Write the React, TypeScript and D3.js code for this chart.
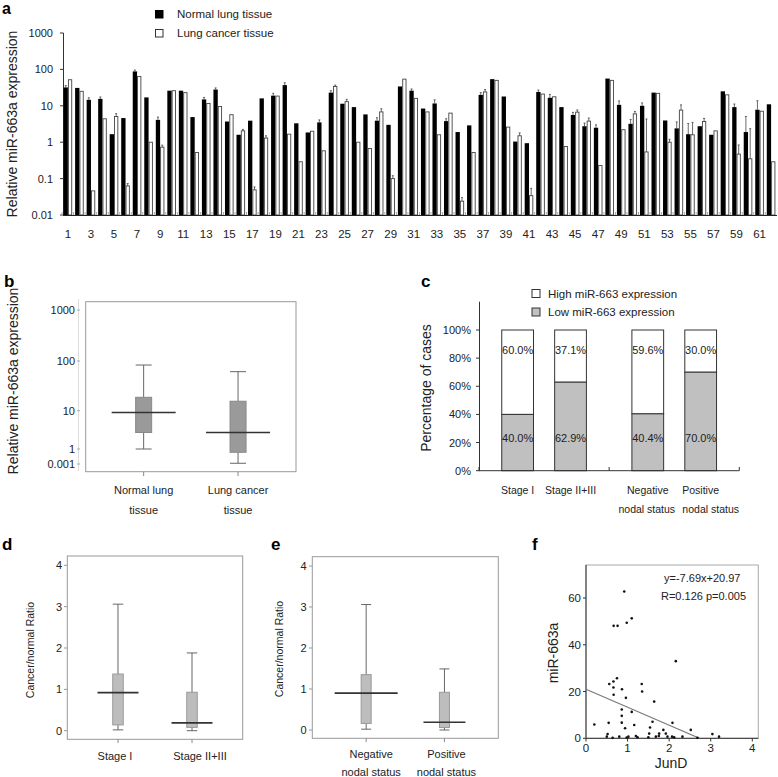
import React from "react";
import * as d3 from "d3";

// ---------- Panel a data ----------
const samples = d3.range(1, 63);
const normalA = [32,31,14.6,15.5,1.66,4.6,88,17,4.1,26,26,4.9,15,28,3.7,1.6,3.9,16,19,37,3.3,1.85,3.5,23,11.4,9.2,5.8,3.9,3.0,34,26,8.4,11.6,3.8,1.9,2.9,20,54,18,1.04,0.94,24,16.6,9.2,5.6,2.75,2.5,56,10.6,3.2,10,23,3.95,2.4,1.66,2.75,1.6,25,9.2,1.9,7.8,11];
const cancerA = [52,25,0.046,4.4,5.1,0.063,64,1.0,0.73,26,23,0.52,11.6,9.6,5.7,2.05,0.049,1.3,18.5,1.66,0.29,2.0,0.58,34,13,1.0,0.67,6.8,0.1,54,16,6.8,1.6,6.3,0.024,0.52,24,50,2.6,1.5,0.034,21,17.7,0.76,6.7,3.8,0.23,50,2.2,6.0,0.54,22,1.0,7.6,1.6,3.7,2.05,20,0.47,0.35,7.1,0.29];
// [sample, error] pairs
const errNormalA: [number, number][] = [[1,4],[3,2],[4,2],[7,8],[9,0.8],[13,2],[14,3],[19,3],[20,6],[23,0.6],[24,3],[28,0.8],[31,3],[33,3],[34,0.6],[37,3],[42,3],[43,4],[45,1],[46,0.6],[47,0.5],[49,3],[50,1],[51,2],[54,1.2],[55,1.6],[59,2],[60,3.2],[61,6]];
const errCancerA: [number, number][] = [[5,1],[6,0.01],[9,0.1],[16,0.2],[17,0.01],[18,0.2],[24,3],[25,2],[28,1.5],[29,0.02],[35,0.006],[37,4],[40,0.3],[41,0.02],[45,1],[46,0.8],[50,1],[51,3.8],[53,0.2],[54,3],[55,1.9],[56,0.8],[59,0.37],[60,2.0]];
const ticksA = [1000, 100, 10, 1, 0.1, 0.01];
const legendA = ["Normal lung tissue", "Lung cancer tissue"];

// ---------- Panel b data ----------
const groupsB = [["Normal lung", "tissue"], ["Lung cancer", "tissue"]];
const boxesB = [
  { min: 1.0, q1: 2.7, med: 9, q3: 18.6, max: 83 },
  { min: 0.0014, q1: 0.22, med: 2.7, q3: 15.5, max: 61 },
];
const ticksB = [1000, 100, 10, 1, 0.001];
const ticksBLabel = ["1000", "100", "10", "1", "0.001"];

// ---------- Panel c data ----------
const groupsC = [
  [["Stage I"], ["Stage II+III"]],
  [["Negative", "nodal status"], ["Positive", "nodal status"]],
];
const labelShiftC = [[[0], [0]], [[0, -1], [0, 10]]];
const lowC = [40.0, 62.9, 40.4, 70.0];
const highC = [60.0, 37.1, 59.6, 30.0];
const ticksC = [0, 20, 40, 60, 80, 100];
const legendC = ["High miR-663 expression", "Low miR-663 expression"];

// ---------- Panel d / e data ----------
const groupsD = [["Stage I"], ["Stage II+III"]];
const boxesD = [
  { min: 0.02, q1: 0.14, med: 0.92, q3: 1.37, max: 3.06 },
  { min: 0.0, q1: 0.08, med: 0.19, q3: 0.93, max: 1.88 },
];
const groupsE = [["Negative", "nodal status"], ["Positive", "nodal status"]];
const boxesE = [
  { min: 0.02, q1: 0.16, med: 0.9, q3: 1.35, max: 3.06 },
  { min: 0.0, q1: 0.06, med: 0.19, q3: 0.92, max: 1.49 },
];
const ticksDE = [0, 1, 2, 3, 4];

// ---------- Panel f data ----------
const junD = [0.92,0.665,0.76,0.98,1.10,2.16,0.745,0.56,0.66,0.66,0.865,0.665,0.96,1.34,1.35,1.64,0.86,1.10,0.86,0.86,0.2,0.545,1.6,2.08,1.16,0.94,1.54,1.86,2.52,0.52,1.52,1.76,1.92,3.04,0.8,0.5,0.98,1.02,1.2,1.24,1.5,1.68,1.75,1.96,2.07,2.12,2.32,2.68,3.2,0.64];
const mir = [62.8,48.1,48.1,49.4,51.3,33.0,25.7,23.2,24.3,21.7,21.0,18.6,17.3,23.2,20.0,15.7,12.3,11.3,9.6,6.7,5.9,6.6,7.1,6.6,5.7,4.3,4.6,3.6,3.6,1.8,2.0,2.0,2.0,1.8,0.7,0.7,0.3,0.7,1.0,0.4,0.4,0.7,1.0,0.7,0.7,0.4,0.7,0.2,0.7,0.2];
const slopeF = -7.69;
const interceptF = 20.97;
const ticksFx = [0, 1, 2, 3, 4];
const ticksFy = [0, 20, 40, 60];

const FONT = "'Liberation Sans', Arial, Helvetica, sans-serif";

type Box = { min: number; q1: number; med: number; q3: number; max: number };

function BoxPlot({ cx, y, b, boxW, medW, fill, stroke, medColor }: { cx: number; y: (v: number) => number; b: Box; boxW: number; medW: number; fill: string; stroke: string; medColor: string }) {
  return (
    <g>
      <line x1={cx} x2={cx} y1={y(b.max)} y2={y(b.q3)} stroke="#666" strokeWidth={1} />
      <line x1={cx} x2={cx} y1={y(b.q1)} y2={y(b.min)} stroke="#666" strokeWidth={1} />
      <line x1={cx - boxW / 2} x2={cx + boxW / 2} y1={y(b.max)} y2={y(b.max)} stroke="#666" strokeWidth={1} />
      <line x1={cx - boxW / 2} x2={cx + boxW / 2} y1={y(b.min)} y2={y(b.min)} stroke="#666" strokeWidth={1} />
      <rect x={cx - boxW / 2} y={y(b.q3)} width={boxW} height={y(b.q1) - y(b.q3)} fill={fill} stroke={stroke} strokeWidth={1} />
      <line x1={cx - medW / 2} x2={cx + medW / 2} y1={y(b.med)} y2={y(b.med)} stroke={medColor} strokeWidth={1.6} />
    </g>
  );
}

export default function App() {
  // ----- Panel a -----
  const xa0 = d3.scaleBand<number>().domain(samples).range([63, 776]).paddingInner(0.25).paddingOuter(0.05);
  const xa1 = d3.scaleBand<string>().domain(["n", "c"]).range([0, xa0.bandwidth()]);
  const ya = d3.scaleLog().domain([0.01, 1000]).range([215, 33]);
  const errN = new Map(errNormalA);
  const errC = new Map(errCancerA);

  // ----- Panel b -----
  const xb = d3.scalePoint<number>().domain([0, 1]).range([85.7, 296]).padding(0.614);
  const ybLin = d3.scaleLinear().domain([-3, 0, 1, 2, 3]).range([464, 449, 410.7, 361, 310]);
  const yb = (v: number) => ybLin(Math.log10(v));

  // ----- Panel c -----
  const xc0 = d3.scaleBand<number>().domain([0, 1]).range([479, 739.3]);
  const xc1 = d3.scaleBand<number>().domain([0, 1]).range([0, xc0.bandwidth()]).paddingInner(0.4).paddingOuter(0.43);
  const yc = d3.scaleLinear().domain([0, 100]).range([470.7, 330]);
  const barC = [0, 1, 2, 3].map((i) => ({ g: Math.floor(i / 2), k: i % 2, i }));

  // ----- Panel d / e -----
  const xd = d3.scalePoint<number>().domain([0, 1]).range([67.3, 242.7]).padding(0.685);
  const yd = d3.scaleLinear().domain([0, 4]).range([730.7, 565.3]);
  const xe = d3.scalePoint<number>().domain([0, 1]).range([312.3, 498.3]).padding(0.688);
  const ye = d3.scaleLinear().domain([0, 4]).range([730, 566]);

  // ----- Panel f -----
  const xf = d3.scaleLinear().domain([0, 4]).range([586, 752.3]);
  const yf = d3.scaleLinear().domain([0, 60]).range([738.3, 598]);
  const xZero = -interceptF / slopeF;

  const tickFont = 11;

  return (
    <svg width={778} height={777} style={{ position: "absolute", left: 0, top: 0, background: "#fff" }} fontFamily={FONT}>
      <rect x={0} y={0} width={778} height={777} fill="#fff" />
      {/* ================= Panel a ================= */}
      <text x={2} y={14} fontSize={16} fontWeight="bold">a</text>
      <text transform={`translate(17,124) rotate(-90)`} textAnchor="middle" fontSize={14} fill="#222">Relative miR-663a expression</text>
      {/* legend */}
      <rect x={155.5} y={10.5} width={7.5} height={7.5} fill="#000" stroke="#000" />
      <text x={177} y={18} fontSize={11.5} fill="#222">{legendA[0]}</text>
      <rect x={155.5} y={29.5} width={7.5} height={7.5} fill="#fff" stroke="#333" />
      <text x={177} y={37} fontSize={11.5} fill="#222">{legendA[1]}</text>
      {/* y axis */}
      <line x1={63.5} x2={63.5} y1={ya(1000)} y2={215} stroke="#333" />
      {ticksA.map((t) => (
        <g key={t}>
          <line x1={60} x2={63.5} y1={ya(t)} y2={ya(t)} stroke="#333" />
          <text x={53} y={ya(t) + 4} fontSize={tickFont} textAnchor="end" fill="#222">{t}</text>
        </g>
      ))}
      {/* bars */}
      {samples.map((s, i) => {
        const x0 = xa0(s)!;
        const bw = xa1.bandwidth();
        const xn = x0 + xa1("n")!;
        const xcn = x0 + xa1("c")!;
        const en = errN.get(s);
        const ec = errC.get(s);
        return (
          <g key={s}>
            <line x1={x0 - 1.5} x2={x0 - 1.5} y1={212} y2={215} stroke="#aaa" />
            <rect x={xn} y={ya(normalA[i])} width={bw} height={215 - ya(normalA[i])} fill="#000" />
            <rect x={xcn + 0.5} y={ya(cancerA[i])} width={bw - 1} height={215 - ya(cancerA[i])} fill="#fff" stroke="#444" strokeWidth={0.9} />
            {en !== undefined && (
              <g stroke="#444" strokeWidth={0.8}>
                <line x1={xn + bw / 2} x2={xn + bw / 2} y1={ya(normalA[i])} y2={ya(normalA[i] + en)} />
                <line x1={xn + bw / 2 - 1} x2={xn + bw / 2 + 1} y1={ya(normalA[i] + en)} y2={ya(normalA[i] + en)} />
              </g>
            )}
            {ec !== undefined && (
              <g stroke="#444" strokeWidth={0.8}>
                <line x1={xcn + bw / 2} x2={xcn + bw / 2} y1={ya(cancerA[i])} y2={ya(cancerA[i] + ec)} />
                <line x1={xcn + bw / 2 - 1} x2={xcn + bw / 2 + 1} y1={ya(cancerA[i] + ec)} y2={ya(cancerA[i] + ec)} />
              </g>
            )}
            {s % 2 === 1 && (
              <text x={x0 + xa0.bandwidth() / 2} y={238} fontSize={11.5} textAnchor="middle" fill="#222">{s}</text>
            )}
          </g>
        );
      })}
      <line x1={63} x2={777} y1={215.5} y2={215.5} stroke="#222" strokeWidth={1.2} />

      {/* ================= Panel b ================= */}
      <text x={4} y={287} fontSize={17} fontWeight="bold">b</text>
      <text transform={`translate(18,381) rotate(-90)`} textAnchor="middle" fontSize={14} fill="#222">Relative miR-663a expression</text>
      <line x1={78.5} x2={78.5} y1={299} y2={471} stroke="#ddd" />
      {ticksB.map((t, i) => (
        <g key={t}>
          <line x1={77} x2={80} y1={yb(t)} y2={yb(t)} stroke="#aaa" />
          <text x={75} y={yb(t) + 4} fontSize={tickFont} textAnchor="end" fill="#222">{ticksBLabel[i]}</text>
        </g>
      ))}
      <rect x={85.7} y={301.7} width={210.3} height={170} fill="none" stroke="#999" strokeWidth={1} />
      {boxesB.map((b, i) => (
        <g key={i}>
          <line x1={xb(i)!} x2={xb(i)!} y1={471.7} y2={476} stroke="#888" />
          <BoxPlot cx={xb(i)!} y={yb} b={b} boxW={16} medW={64} fill="#9a9a9a" stroke="#888" medColor="#333" />
          {groupsB[i].map((l, j) => (
            <text key={j} x={xb(i)!} y={494 + j * 20} fontSize={11} textAnchor="middle" fill="#222">{l}</text>
          ))}
        </g>
      ))}

      {/* ================= Panel c ================= */}
      <text x={421} y={287} fontSize={17} fontWeight="bold">c</text>
      <text transform={`translate(431,388) rotate(-90)`} textAnchor="middle" fontSize={14} fill="#222">Percentage of cases</text>
      <rect x={532} y={289.5} width={8} height={8} fill="#fff" stroke="#333" />
      <text x={548} y={297.5} fontSize={11.5} fill="#222">{legendC[0]}</text>
      <rect x={532} y={308} width={8} height={8} fill="#c0c0c0" stroke="#333" />
      <text x={548} y={316} fontSize={11.5} fill="#222">{legendC[1]}</text>
      <line x1={479.5} x2={479.5} y1={301.7} y2={470.7} stroke="#333" />
      {ticksC.map((t) => (
        <g key={t}>
          <line x1={476} x2={479.5} y1={yc(t)} y2={yc(t)} stroke="#333" />
          <text x={471} y={yc(t) + 4} fontSize={tickFont} textAnchor="end" fill="#222">{t}%</text>
        </g>
      ))}
      {barC.map(({ g, k, i }) => {
        const x = xc0(g)! + xc1(k)!;
        const w = xc1.bandwidth();
        const cx = x + w / 2;
        const labels = groupsC[g][k];
        return (
          <g key={i}>
            <rect x={x} y={yc(lowC[i] + highC[i])} width={w} height={yc(lowC[i]) - yc(lowC[i] + highC[i])} fill="#fff" stroke="#333" />
            <rect x={x} y={yc(lowC[i])} width={w} height={yc(0) - yc(lowC[i])} fill="#c0c0c0" stroke="#333" />
            <text x={cx} y={354} fontSize={11} textAnchor="middle" fill="#222">{highC[i].toFixed(1)}%</text>
            <text x={cx} y={442} fontSize={11} textAnchor="middle" fill="#222">{lowC[i].toFixed(1)}%</text>
            {labels.map((l, j) => (
              <text key={j} x={cx + labelShiftC[g][k][j]} y={494 + j * 19} fontSize={10.5} textAnchor="middle" fill="#222">{l}</text>
            ))}
          </g>
        );
      })}
      <line x1={479} x2={739.3} y1={470.7} y2={470.7} stroke="#333" />
      {[0, 1, 2].map((k) => (
        <line key={k} x1={479 + k * xc0.step()} x2={479 + k * xc0.step()} y1={467} y2={470.7} stroke="#333" />
      ))}

      {/* ================= Panel d ================= */}
      <text x={2} y={550} fontSize={17} fontWeight="bold">d</text>
      <text transform={`translate(34,650) rotate(-90)`} textAnchor="middle" fontSize={10.5} fill="#222">Cancer/normal Ratio</text>
      {ticksDE.map((t) => (
        <g key={t}>
          <line x1={64} x2={67.3} y1={yd(t)} y2={yd(t)} stroke="#999" />
          <text x={62} y={yd(t) + 4} fontSize={tickFont} textAnchor="end" fill="#222">{t}</text>
        </g>
      ))}
      <rect x={67.3} y={556} width={175.4} height={183.3} fill="none" stroke="#999" />
      {boxesD.map((b, i) => (
        <g key={i}>
          <line x1={xd(i)!} x2={xd(i)!} y1={739.3} y2={743} stroke="#888" />
          <BoxPlot cx={xd(i)!} y={yd} b={b} boxW={10.5} medW={41} fill="#bdbdbd" stroke="#999" medColor="#333" />
          {groupsD[i].map((l, j) => (
            <text key={j} x={xd(i)! + (i === 0 ? -3 : 8)} y={760 + j * 18} fontSize={11} textAnchor="middle" fill="#222">{l}</text>
          ))}
        </g>
      ))}

      {/* ================= Panel e ================= */}
      <text x={271} y={550} fontSize={17} fontWeight="bold">e</text>
      <text transform={`translate(283,649) rotate(-90)`} textAnchor="middle" fontSize={10.5} fill="#222">Cancer/normal Ratio</text>
      {ticksDE.map((t) => (
        <g key={t}>
          <line x1={309} x2={312.3} y1={ye(t)} y2={ye(t)} stroke="#999" />
          <text x={306.5} y={ye(t) + 4} fontSize={tickFont} textAnchor="end" fill="#222">{t}</text>
        </g>
      ))}
      <rect x={312.3} y={556.7} width={186} height={181.6} fill="none" stroke="#999" />
      {boxesE.map((b, i) => (
        <g key={i}>
          <line x1={xe(i)!} x2={xe(i)!} y1={738.3} y2={742} stroke="#888" />
          <BoxPlot cx={xe(i)!} y={ye} b={b} boxW={10} medW={i === 0 ? 63 : 42} fill="#bdbdbd" stroke="#999" medColor="#333" />
          {groupsE[i].map((l, j) => (
            <text key={j} x={xe(i)! + (i === 0 ? 5 : 2)} y={758 + j * 18} fontSize={11} textAnchor="middle" fill="#222">{l}</text>
          ))}
        </g>
      ))}

      {/* ================= Panel f ================= */}
      <text x={532} y={550} fontSize={17} fontWeight="bold">f</text>
      <text transform={`translate(558,653) rotate(-90)`} textAnchor="middle" fontSize={14} fill="#222">miR-663a</text>
      <rect x={586} y={565} width={172.3} height={173.3} fill="none" stroke="#aaa" />
      <line x1={586} x2={586} y1={565} y2={738.3} stroke="#333" />
      <line x1={586} x2={758.3} y1={738.3} y2={738.3} stroke="#333" />
      {ticksFy.map((t) => (
        <g key={t}>
          <line x1={583} x2={586} y1={yf(t)} y2={yf(t)} stroke="#333" />
          <text x={581} y={yf(t) + 4} fontSize={11.5} textAnchor="end" fill="#222">{t}</text>
        </g>
      ))}
      {ticksFx.map((t) => (
        <g key={t}>
          <line x1={xf(t)} x2={xf(t)} y1={738.3} y2={741.5} stroke="#333" />
          <text x={xf(t)} y={752} fontSize={11.5} textAnchor="middle" fill="#222">{t}</text>
        </g>
      ))}
      <text x={671} y={768} fontSize={14} textAnchor="middle" fill="#222">JunD</text>
      <line x1={xf(0)} x2={xf(xZero)} y1={yf(interceptF)} y2={yf(0)} stroke="#777" strokeWidth={1.1} />
      {junD.map((x, i) => (
        <circle key={i} cx={xf(x)} cy={yf(mir[i])} r={1.3} fill="#111" />
      ))}
      <text x={664} y={582} fontSize={11} fill="#222">y=-7.69x+20.97</text>
      <text x={661} y={600} fontSize={11} fill="#222">R=0.126 p=0.005</text>
    </svg>
  );
}
